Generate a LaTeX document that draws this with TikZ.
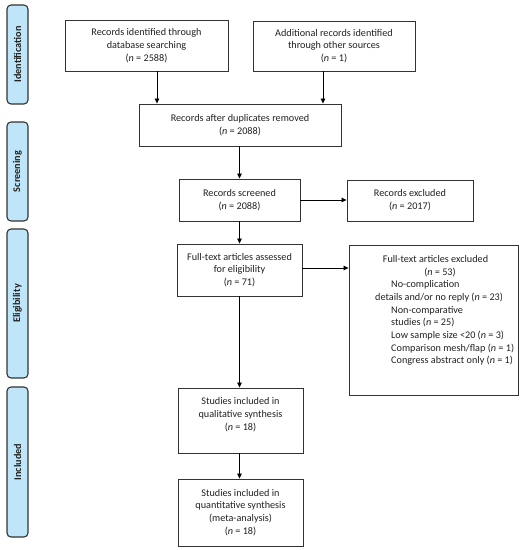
\documentclass[tikz,border=0pt]{standalone}
\usepackage{fontspec}
\setmainfont{Carlito}
\usetikzlibrary{arrows.meta,calc}
\definecolor{sidefill}{HTML}{BFE5F8}
\definecolor{edge}{HTML}{333333}
\definecolor{txt}{HTML}{222222}
\tikzset{
  box/.style={draw=edge,line width=0.9pt,fill=white,align=center,inner sep=2pt,
    text=txt,font=\fontsize{10.2}{12.7}\selectfont},
  side/.style={draw=edge,line width=1.1pt,fill=sidefill,rounded corners=4pt,
    text=txt,minimum width=21pt,font=\fontsize{10.2}{11}\selectfont\bfseries,inner sep=0pt},
  arr/.style={draw=black,line width=0.8pt,-{Triangle[length=5pt,width=4.5pt]}},
  exl/.style={inner sep=0pt,text=txt,font=\fontsize{10.2}{12.7}\selectfont,text height=7pt,text depth=2pt}
}
\begin{document}
\begin{tikzpicture}[x=1pt,y=-1pt]
\useasboundingbox (0,0) rectangle (525,550);
% side labels
\node[side,minimum height=99pt] (sid) at (17.5,54.5) {\rotatebox{90}{Identification}};
\node[side,minimum height=99pt] (sscr) at (17.5,171.5) {\rotatebox{90}{Screening}};
\node[side,minimum height=149pt] (sel) at (17.5,303.5) {\rotatebox{90}{Eligibility}};
\node[side,minimum height=150pt] (sin) at (17.5,462) {\rotatebox{90}{Included}};
% boxes
\node[box,minimum width=163pt,minimum height=51pt] (b1) at (146.5,45.5)
  {Records identified through\\database searching\\(\textit{n} = 2588)};
\node[box,minimum width=162pt,minimum height=50pt] (b2) at (334,46)
  {Additional records identified\\through other sources\\(\textit{n} = 1)};
\node[box,minimum width=202pt,minimum height=42pt] (dup) at (240,125)
  {Records after duplicates removed\\(\textit{n} = 2088)};
\node[box,minimum width=121pt,minimum height=42pt] (scr) at (239.5,200)
  {Records screened\\(\textit{n} = 2088)};
\node[box,minimum width=126pt,minimum height=41pt] (rex) at (410,200.5)
  {Records excluded\\(\textit{n} = 2017)};
\node[box,minimum width=125pt,minimum height=52pt] (ft) at (239.5,270)
  {Full-text articles assessed\\for eligibility\\(\textit{n} = 71)};
\node[box,minimum width=169pt,minimum height=150pt] (fex) at (433.5,320) {};
\node[box,minimum width=125pt,minimum height=65pt] (ql) at (240.5,420.5)
  {Studies included in\\qualitative synthesis\\(\textit{n} = 18)\\\mbox{}};
\node[box,minimum width=125pt,minimum height=67pt] (qn) at (240.5,512.5)
  {Studies included in\\quantitative synthesis\\(meta-analysis)\\(\textit{n} = 18)};
% excluded text
\node[exl] (e1) at (435.5,260) {Full-text articles excluded};
\node[exl] (e2) at (440,272.7) {(\textit{n} = 53)};
\node[exl,anchor=west] (e3) at (391,285.3) {No-complication};
\node[exl,anchor=west] (e4) at (375,298) {details and/or no reply (\textit{n} = 23)};
\node[exl,anchor=west] (e5) at (391,310.7) {Non-comparative};
\node[exl,anchor=west] (e6) at (391,323.3) {studies (\textit{n} = 25)};
\node[exl,anchor=west] (e7) at (391,336) {Low sample size <20 (\textit{n} = 3)};
\node[exl,anchor=west] (e8) at (391,348.7) {Comparison mesh/flap (\textit{n} = 1)};
\node[exl,anchor=west] (e9) at (391,361.3) {Congress abstract only (\textit{n} = 1)};
% arrows
\draw[arr] ([xshift=10.5pt]b1.south) -- ([xshift=10.5pt]b1.south |- dup.north);
\draw[arr] ([xshift=-11pt]b2.south) -- ([xshift=-11pt]b2.south |- dup.north);
\draw[arr] (scr.north |- dup.south) -- (scr.north);
\draw[arr] (scr.east) -- (scr.east -| rex.west);
\draw[arr] (scr.south) -- (ft.north);
\draw[arr] ([yshift=2pt]ft.east) -- ([yshift=2pt]ft.east -| fex.west);
\draw[arr] (ft.south) -- (ft.south |- ql.north);
\draw[arr] (ft.south |- ql.south) -- (ft.south |- qn.north);
\end{tikzpicture}
\end{document}
